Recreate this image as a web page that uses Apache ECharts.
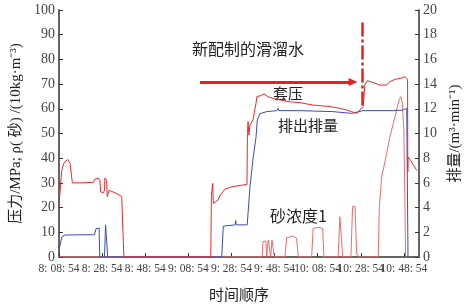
<!DOCTYPE html>
<html><head><meta charset="utf-8">
<script src="https://cdn.jsdelivr.net/npm/echarts@6/dist/echarts.min.js"></script>
<style>html,body{margin:0;padding:0;background:#fff}#c{width:464px;height:307px}</style>
</head><body><div id="c"></div>
<script>
// time in minutes after 8:08:54
const xTickLabels = ['8: 08: 54','8: 28: 54','8: 48: 54','9: 08: 54','9: 28: 54','9: 48: 54','10: 08: 54','10: 28: 54','10: 48: 54'];
const leftTicks = [0,10,20,30,40,50,60,70,80,90,100];
const rightTicks = [0,2,4,6,8,10,12,14,16,18,20];

// 套压 (MPa, left axis)
const pressureT = [0,1.25,2.3,4.0,5.1,5.9,6.2,9.7,15.9,16.7,18.2,19.0,19.3,20.5,21.1,21.3,22.1,22.4,23.2,26.0,29.1,29.8,30.1,
  70.4,70.7,71.3,71.6,72.4,73.7,74.7,77.0,80.7,87.2,87.4,87.7,88.1,88.6,90.0,91.4,91.8,93.2,95.1,96.9,99.3,102.5,106.2,
  111.8,117.8,125.7,130.3,133.4,137.3,138.4,139.6,141.1,141.9,143.0,145.8,148.9,152.0,153.5,155.8,158.2,160.5,161.3,161.7,161.8,161.9,163.2,164.6,166.0];
const pressureV = [21,35,38,39.5,38,38.3,30,30,30.2,31.5,32,31,26.4,26,27,32,31,24.4,27,26,24.5,24,0,
  0,25,29.8,21.7,21.8,23,25,27.5,28.5,29.4,50,54.8,49.4,53.4,55.5,62.3,65,65.2,66,64.9,64.2,63.6,62.9,
  62.5,61.5,60.9,60.2,59.5,58.4,58.2,59.5,61,69.6,71.4,70.6,69.6,69.6,71,71.9,72.3,73,73.3,72,34.5,40.5,39,37,35];

// 排出排量 (m3/min, right axis)
const rateT = [0,1.4,2.8,9.7,16.4,17.2,18.6,18.9,21.1,21.6,22.1,22.6,75.5,76.2,81.6,82.0,82.2,87.3,88.6,90.1,91.4,92.0,93.2,96.3,
  101.0,101.7,102.0,102.5,111.8,127.1,135.8,141.0,154.9,159.7,161.3,161.6,161.9];
const rateV = [0.6,1.65,1.78,1.8,1.8,2.3,2.35,0,0,2.6,2.5,0,0,2.5,2.6,2.95,2.6,2.6,5.7,8.1,9.7,11.1,11.6,11.77,
  11.85,12.05,11.85,11.9,11.85,11.77,11.63,11.85,11.85,11.9,12.04,12.04,0];

// 砂浓度1 (10kg/m3, left axis)
const sandT = [0,94.2,94.6,95.5,96.0,96.3,96.7,97.1,97.9,98.2,98.5,98.8,99.6,99.9,
  104.8,105.6,106.4,108.7,110.2,111.0,117.2,117.9,120.3,122.3,122.9,
  129.5,130.3,131.1,131.6,135.4,136.2,137.3,138.1,139.6,
  148.1,148.6,149.7,150.4,152.0,153.5,155.1,156.6,157.8,158.5,159.2,160.0,160.8];
const sandV = [0,0,6.2,6.9,6.5,0,0,6.9,6.6,0,0,6.9,6.7,0,
  0,7.8,8.3,8.5,7.6,0,0,11.6,12.0,11.6,0,
  0,16.3,17,0,0,20.4,20.6,1,0,
  0,20.4,32.5,35.2,42,48.7,54.1,59.5,63.6,64.9,62.9,51,0];

// annotations (data coordinates)
const arrowFrom = [65.4, 70.9], arrowTo = [136.4, 70.9];
const markerFrom = [140.8, 94.9], markerTo = [140.8, 60];

const pair = (t, v) => t.map((x, i) => [x, v[i]]);
const serif = '"Liberation Serif","Noto Sans CJK SC",serif';
const chart = echarts.init(document.getElementById('c'));
chart.setOption({
  animation: false,
  grid: {left: 59, right: 45, top: 10, bottom: 50, containLabel: false, outerBoundsMode: 'none'},
  xAxis: {
    type: 'value', min: 0, max: 167, interval: 20,
    name: '时间顺序', nameLocation: 'middle', nameGap: 30,
    nameTextStyle: {fontFamily: '"Noto Sans CJK SC"', fontSize: 15, color: '#222'},
    axisLine: {lineStyle: {color: '#666', width: 2}},
    axisTick: {inside: true, length: 4, lineStyle: {color: '#333'}},
    axisLabel: {showMaxLabel: false, fontFamily: serif, fontSize: 11.5, color: '#444', margin: 6,
      formatter: v => { const i = Math.round(v / 20); return (Math.abs(v - i*20) < 1e-6 && xTickLabels[i]) ? xTickLabels[i] : ''; }},
    splitLine: {show: false}
  },
  yAxis: [{
    type: 'value', min: leftTicks[0], max: leftTicks[leftTicks.length-1], interval: 10,
    name: '压力/MPa; ρ( 砂) /(10kg·m⁻³)', nameLocation: 'middle', nameGap: 35, nameRotate: 90,
    nameTextStyle: {fontFamily: serif, fontSize: 15, color: '#222'},
    axisLine: {show: true, lineStyle: {color: '#666', width: 2}},
    axisTick: {show: true, inside: true, length: 4, lineStyle: {color: '#333'}},
    axisLabel: {fontFamily: serif, fontSize: 14, color: '#444', margin: 4},
    splitLine: {show: false}
  }, {
    type: 'value', min: rightTicks[0], max: rightTicks[rightTicks.length-1], interval: 2, position: 'right',
    name: '排量/(m³·min⁻¹)', nameLocation: 'middle', nameGap: 25, nameRotate: 90,
    nameTextStyle: {fontFamily: serif, fontSize: 15, color: '#222'},
    axisLine: {show: true, lineStyle: {color: '#666', width: 2}},
    axisTick: {show: true, inside: true, length: 4, lineStyle: {color: '#333'}},
    axisLabel: {fontFamily: serif, fontSize: 14, color: '#444', margin: 4},
    splitLine: {show: false}
  }],
  series: [
    {type: 'line', name: '砂浓度1', data: pair(sandT, sandV), yAxisIndex: 0, symbol: 'none',
      lineStyle: {color: '#f06a6a', width: 1}},
    {type: 'line', name: '排出排量', data: pair(rateT, rateV), yAxisIndex: 1, symbol: 'none',
      lineStyle: {color: '#3c4cb4', width: 1}},
    {type: 'line', name: '套压', data: pair(pressureT, pressureV), yAxisIndex: 0, symbol: 'none',
      lineStyle: {color: '#ee2828', width: 1},
      markLine: {silent: true, animation: false, label: {show: false},
        data: [
          [{coord: arrowFrom, symbol: 'none', lineStyle: {color: '#e82020', width: 3, type: 'solid'}},
           {coord: arrowTo, symbol: 'triangle', symbolSize: [8, 9], symbolRotate: -90}],
          [{coord: markerFrom, symbol: 'none', lineStyle: {color: '#e82020', width: 2.5, type: [14, 3, 3, 3]}},
           {coord: markerTo, symbol: 'none'}]
        ]}}
  ],
  graphic: [
    {type: 'text', left: 192, top: 41, style: {text: '新配制的滑溜水', font: '16px "Noto Sans CJK SC"', fill: '#222'}},
    {type: 'text', left: 273, top: 86, style: {text: '套压', font: '15px "Noto Sans CJK SC"', fill: '#222'}},
    {type: 'text', left: 278, top: 118, style: {text: '排出排量', font: '15px "Noto Sans CJK SC"', fill: '#222'}},
    {type: 'text', left: 270, top: 208, style: {text: '砂浓度1', font: '16px "Noto Sans CJK SC"', fill: '#222'}}
  ]
});
</script></body></html>
